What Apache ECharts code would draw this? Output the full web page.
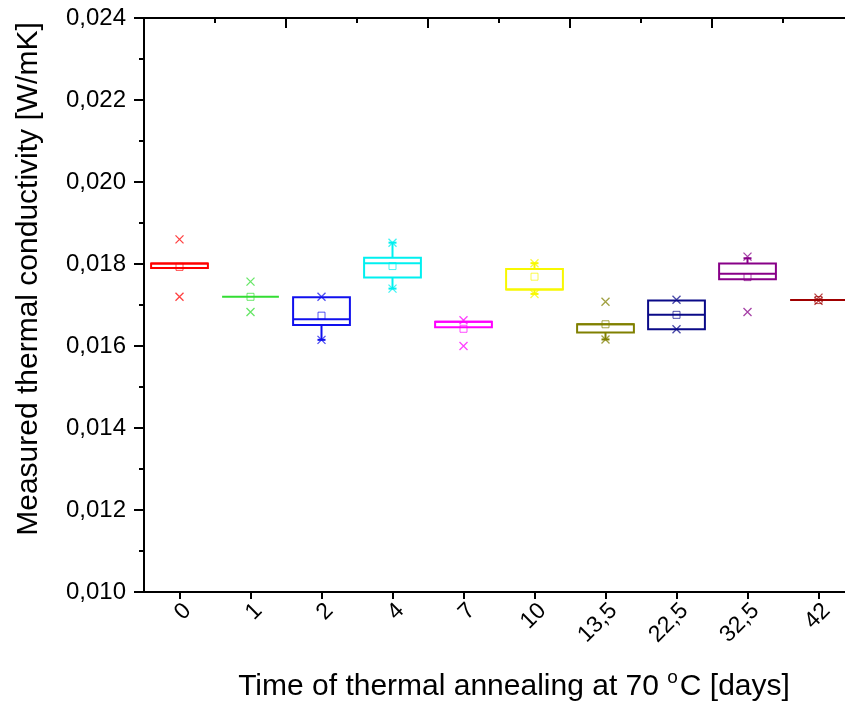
<!DOCTYPE html>
<html>
<head>
<meta charset="utf-8">
<script src="https://cdn.jsdelivr.net/npm/echarts@6/dist/echarts.min.js"></script>
<style>
html,body{margin:0;padding:0;background:#fff;}
#chart{width:845px;height:708px;}
</style>
</head>
<body>
<div id="chart"></div>
<script>
// ---- data ----
var categories   = ['0','1','2','4','7','10','13,5','22,5','32,5','42'];
var whiskerLow   = [0.01790,0.01720,0.01615,0.01740,0.01646,0.01727,0.01616,0.01641,0.01763,0.01712];
var q1           = [0.01790,0.01720,0.01651,0.01767,0.01646,0.01738,0.01633,0.01641,0.01763,0.01712];
var median       = [0.01801,0.01720,0.01665,0.01802,0.01659,0.01738,0.01653,0.01676,0.01776,0.01712];
var q3           = [0.01801,0.01720,0.01719,0.01815,0.01659,0.01788,0.01653,0.01711,0.01801,0.01712];
var whiskerHigh  = [0.01801,0.01720,0.01719,0.01852,0.01659,0.01802,0.01653,0.01711,0.01814,0.01712];
var means        = [0.01793,0.01720,0.01674,0.01795,0.01642,0.01769,0.01653,0.01676,0.01768,0.01712];
var minima       = [0.01720,0.01683,0.01615,0.01740,0.01600,0.01727,0.01616,0.01641,0.01683,0.01710];
var maxima       = [0.01860,0.01757,0.01720,0.01852,0.01663,0.01802,0.01708,0.01713,0.01818,0.01718];
var yTicks       = [0.010,0.012,0.014,0.016,0.018,0.020,0.022,0.024];

var palette = ['#ff0000','#33dd33','#1010ee','#00f0f0','#ff00ff','#f8f800','#808000','#0a0a88','#880088','#a00000'];

// ---- build series data ----
var boxData = categories.map(function(c,i){
  return [i, whiskerLow[i], q1[i], median[i], q3[i], whiskerHigh[i]];
});
var meanData = categories.map(function(c,i){
  return {value:[i, means[i]], itemStyle:{borderColor:palette[i]}};
});
var extremeData = [];
categories.forEach(function(c,i){
  extremeData.push({value:[i, minima[i]], itemStyle:{borderColor:palette[i], color:palette[i]}});
  extremeData.push({value:[i, maxima[i]], itemStyle:{borderColor:palette[i], color:palette[i]}});
});

var chart = echarts.init(document.getElementById('chart'), null, {renderer:'canvas'});

function renderBox(params, api){
  var i = api.value(0);
  var col = palette[i];
  var wl = api.coord([i, api.value(1)]);
  var p1 = api.coord([i, api.value(2)]);
  var pm = api.coord([i, api.value(3)]);
  var p3 = api.coord([i, api.value(4)]);
  var wh = api.coord([i, api.value(5)]);
  var bw = api.size([1,0])[0] * 0.8;
  var x = p1[0];
  var st = {stroke:col, fill:null, lineWidth:2};
  var children = [];
  if (Math.abs(p1[1]-p3[1]) < 1) {
    children.push({type:'line', shape:{x1:x-bw/2,y1:p1[1],x2:x+bw/2,y2:p1[1]}, style:st});
  } else {
    children.push({type:'rect', shape:{x:x-bw/2, y:p3[1], width:bw, height:p1[1]-p3[1]}, style:st});
    children.push({type:'line', shape:{x1:x-bw/2,y1:pm[1],x2:x+bw/2,y2:pm[1]}, style:st});
  }
  if (wh[1] < p3[1]-1) {
    children.push({type:'line', shape:{x1:x,y1:p3[1],x2:x,y2:wh[1]}, style:st});
    children.push({type:'line', shape:{x1:x-4,y1:wh[1],x2:x+4,y2:wh[1]}, style:st});
  }
  if (wl[1] > p1[1]+1) {
    children.push({type:'line', shape:{x1:x,y1:p1[1],x2:x,y2:wl[1]}, style:st});
    children.push({type:'line', shape:{x1:x-4,y1:wl[1],x2:x+4,y2:wl[1]}, style:st});
  }
  return {type:'group', children:children};
}

var FONT = 'Liberation Sans, Arial';

var option = {
  backgroundColor:'#ffffff',
  animation:false,
  grid:{left:144, top:18, right:-9, bottom:116, containLabel:false, outerBoundsMode:'none'},
  xAxis:[{
    type:'category',
    data:categories,
    boundaryGap:true,
    position:'bottom',
    axisLine:{show:true, onZero:false, lineStyle:{color:'#000', width:2}},
    axisTick:{show:true, alignWithLabel:true, inside:false, length:7, lineStyle:{color:'#000', width:2}},
    axisLabel:{rotate:45, fontSize:23, color:'#000', fontFamily:FONT, margin:7, verticalAlign:'top', hideOverlap:false, interval:0},
    splitLine:{show:false},
    name:'{n|Time of thermal annealing at 70 }{s|o}{n|C [days]}',
    nameLocation:'middle',
    nameGap:76,
    nameTextStyle:{
      padding:[0,0,0,30],
      rich:{
        n:{fontSize:30, color:'#000', fontFamily:FONT, lineHeight:34, verticalAlign:'bottom'},
        s:{fontSize:19, color:'#000', fontFamily:FONT, lineHeight:34, verticalAlign:'top', padding:[0,2,14,0]}
      }
    }
  },{
    type:'value',
    position:'top',
    min:0, max:10, interval:2,
    axisLine:{show:true, lineStyle:{color:'#000', width:2}},
    axisTick:{show:true, inside:true, length:10, lineStyle:{color:'#000', width:2}},
    minorTick:{show:true, splitNumber:2, length:5, lineStyle:{color:'#000', width:2}},
    axisLabel:{show:false},
    splitLine:{show:false}
  }],
  yAxis:[{
    type:'value',
    min:0.010, max:0.024, interval:0.002,
    axisLine:{show:true, lineStyle:{color:'#000', width:2}},
    axisTick:{show:true, inside:false, length:10, lineStyle:{color:'#000', width:2}},
    minorTick:{show:true, splitNumber:2, length:5, lineStyle:{color:'#000', width:2}},
    axisLabel:{
      fontSize:24, color:'#000', fontFamily:FONT, margin:18,
      formatter:function(v){
        var t = yTicks.filter(function(k){return Math.abs(k-v)<1e-9;});
        return t.length ? t[0].toFixed(3).replace('.',',') : '';
      }
    },
    splitLine:{show:false},
    name:'Measured thermal conductivity [W/mK]',
    nameLocation:'middle',
    nameGap:100,
    nameTextStyle:{fontSize:30, color:'#000', fontFamily:FONT, padding:[0,0,0,52]}
  }],
  series:[{
    type:'custom',
    renderItem:renderBox,
    data:boxData,
    encode:{x:0, y:[1,2,3,4,5]},
    z:2
  },{
    type:'scatter',
    data:meanData,
    symbol:'rect',
    symbolSize:7,
    itemStyle:{color:'rgba(255,255,255,0)', borderWidth:1, opacity:0.7},
    z:3
  },{
    type:'scatter',
    data:extremeData,
    symbol:'path://M0,0L10,10M10,0L0,10',
    symbolSize:8,
    itemStyle:{borderWidth:1.3, opacity:0.75},
    z:3
  }]
};
chart.setOption(option);
</script>
</body>
</html>
